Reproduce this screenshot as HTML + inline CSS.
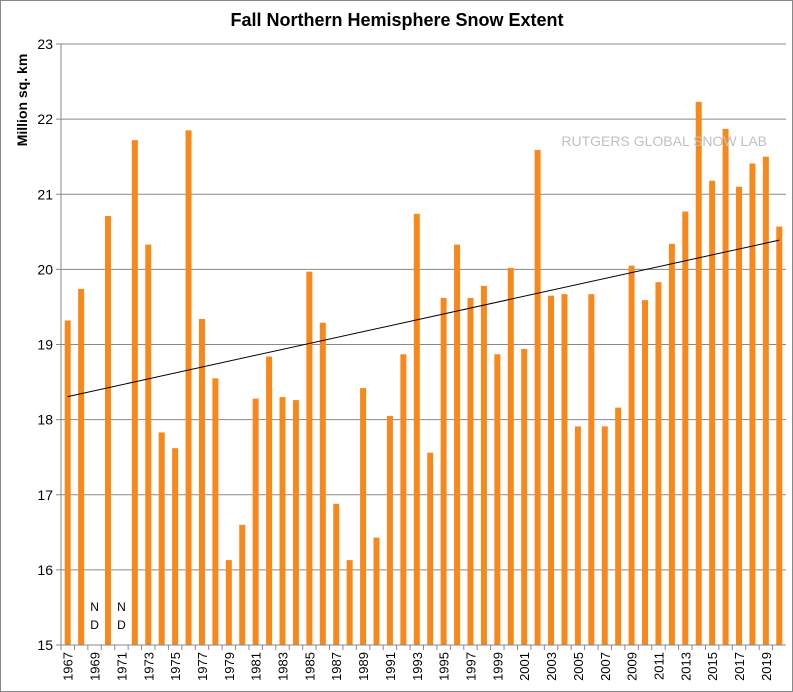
<!DOCTYPE html>
<html><head><meta charset="utf-8"><style>
html,body{margin:0;padding:0;background:#fff}
svg{display:block;font-family:"Liberation Sans",Arial,sans-serif}
</style></head><body>
<svg id="chart" width="793" height="692">
<rect x="0.5" y="0.5" width="792" height="691" fill="#fff" stroke="#888"/>
<text x="397" y="26" text-anchor="middle" font-size="18" font-weight="bold">Fall Northern Hemisphere Snow Extent</text>
<text transform="translate(27,100) rotate(-90)" text-anchor="middle" font-size="14" font-weight="bold">Million sq. km</text>
<g id="grid"></g><g id="bars"></g><g id="axes"></g>
<text x="767" y="146" text-anchor="end" font-size="14" fill="#c0c0c0">RUTGERS GLOBAL SNOW LAB</text>
<g id="trend"></g>
</svg>
<script>
const years=[];for(let y=1967;y<=2020;y++)years.push(y);
const values=[19.32,19.74,null,20.71,null,21.72,20.33,17.83,17.62,21.85,19.34,18.55,16.13,16.60,18.28,18.84,18.30,18.26,19.97,19.29,16.88,16.13,18.42,16.43,18.05,18.87,20.74,17.56,19.62,20.33,19.62,19.78,18.87,20.02,18.94,21.59,19.65,19.67,17.91,19.67,17.91,18.16,20.05,19.59,19.83,20.34,20.77,22.23,21.18,21.87,21.10,21.41,21.50,20.57];
const yTicks=[15,16,17,18,19,20,21,22,23];
const NS="http://www.w3.org/2000/svg";
const X0=61,X1=786,Y0=645,Y1=44,ymin=15,ymax=23;
const bw=(X1-X0)/years.length;
const yS=v=>Y0-(v-ymin)/(ymax-ymin)*(Y0-Y1);
const xC=i=>X0+bw*(i+0.5);
function mk(t,a,p){const e=document.createElementNS(NS,t);for(const k in a)e.setAttribute(k,a[k]);p.appendChild(e);return e;}
const grid=document.getElementById('grid'),bars=document.getElementById('bars'),axes=document.getElementById('axes'),trend=document.getElementById('trend');
yTicks.forEach(t=>{
 const l=mk('line',{x1:X0-5,x2:X1,y1:yS(t),y2:yS(t),stroke:'#888','stroke-width':1},grid);
 
 
 const tx=mk('text',{x:X0-8,y:yS(t)+5,'text-anchor':'end','font-size':14},axes);tx.textContent=t;
 
 
});
const ax=mk('line',{x1:X0,x2:X0,y1:Y1,y2:Y0,stroke:'#888'},axes);


const xa=mk('line',{x1:X0,x2:X1,y1:Y0,y2:Y0,stroke:'#888'},axes);


years.forEach((yr,i)=>{
 const tk=mk('line',{x1:X0+bw*i,x2:X0+bw*i,y1:Y0,y2:Y0+5,stroke:'#888'},axes);
 
 
 const v=values[i];
 if(v!=null){
  const r=mk('rect',{x:xC(i)-3,y:yS(v),width:6,height:Y0-yS(v),fill:'#f7891c'},bars);
  
  
 }else{
  ['N','D'].forEach((c,k)=>{const t=mk('text',{x:xC(i),y:611+k*18,'text-anchor':'middle','font-size':12},bars);t.textContent=c;
  
  });
 }
 if(i%2===0){
  const t=mk('text',{transform:`translate(${xC(i)+5},${Y0+7}) rotate(-90)`,'text-anchor':'end','font-size':13},axes);t.textContent=yr;
  
  
 }
});
let n=0,sx=0,sy=0,sxx=0,sxy=0;
values.forEach((v,i)=>{if(v!=null){n++;sx+=i;sy+=v;sxx+=i*i;sxy+=i*v;}});
const b=(n*sxy-sx*sy)/(n*sxx-sx*sx),a=(sy-b*sx)/n;
const last=years.length-1;
const tl=mk('line',{x1:xC(0),y1:yS(a),x2:xC(last),y2:yS(a+b*last),stroke:'#000','stroke-width':1},trend);


</script>
</body></html>
